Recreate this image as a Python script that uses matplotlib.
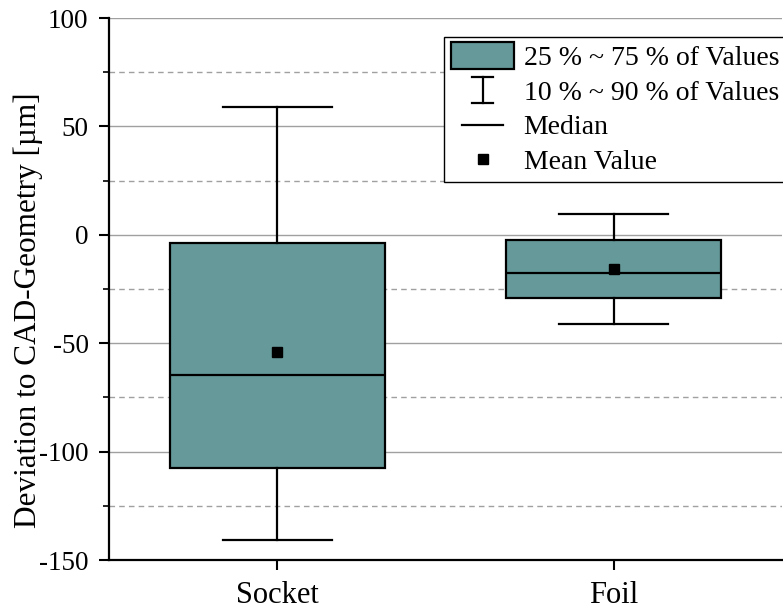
import matplotlib
matplotlib.use("Agg")
import matplotlib.pyplot as plt
from matplotlib.patches import Rectangle
from matplotlib.lines import Line2D
from matplotlib.legend_handler import HandlerBase

# Box statistics per sample (µm)
categories = ["Socket", "Foil"]
p10 = [-141.0, -41.0]
q25 = [-107.5, -29.0]
median = [-64.5, -17.5]
q75 = [-4.0, -2.5]
p90 = [58.8, 9.6]
mean = [-54.0, -16.0]

box_color = "#669999"

plt.rcParams["font.family"] = ["Liberation Serif", "DejaVu Serif"]
plt.rcParams["axes.unicode_minus"] = False

fig = plt.figure(figsize=(7.83, 6.10), dpi=100)
W, H = 783, 610
ax = fig.add_axes([109 / W, 50 / H, (782 - 109) / W, (560 - 18) / H])

stats = []
for i, name in enumerate(categories):
    stats.append(dict(label=name, whislo=p10[i], q1=q25[i], med=median[i],
                      q3=q75[i], whishi=p90[i], mean=mean[i], fliers=[]))

positions = list(range(1, len(categories) + 1))
ax.bxp(stats, positions=positions, widths=0.64, showmeans=True,
       showfliers=False, patch_artist=True,
       boxprops=dict(facecolor=box_color, edgecolor="black", linewidth=1.6),
       medianprops=dict(color="black", linewidth=1.6),
       whiskerprops=dict(color="black", linewidth=1.6),
       capprops=dict(color="black", linewidth=1.6),
       capwidths=0.325,
       meanprops=dict(marker="s", markerfacecolor="black",
                      markeredgecolor="black", markersize=7),
       zorder=3)

ax.set_xlim(0.5, 2.5)
ax.set_ylim(-150, 100)
ax.set_xticks(positions)
ax.set_xticklabels(categories, fontsize=22)
ax.set_yticks([-150, -100, -50, 0, 50, 100])
ax.set_yticks([-125, -75, -25, 25, 75], minor=True)
ax.tick_params(axis="y", labelsize=19.5, direction="out", length=7.2, width=1.5, pad=7.5)
ax.tick_params(axis="y", which="minor", length=4, width=1.2)
ax.tick_params(axis="x", direction="out", length=7, width=1.5, pad=8)

ax.set_ylabel("Deviation to CAD-Geometry [µm]", fontsize=22.5)
ax.yaxis.set_label_coords(-0.098, 0.46)

ax.grid(axis="y", which="major", color="#a0a0a0", linewidth=1.0, zorder=0)
ax.grid(axis="y", which="minor", color="#a0a0a0", linewidth=1.0,
        linestyle=(0, (4, 3)), zorder=0)
ax.set_axisbelow(True)

for side in ("top", "right"):
    ax.spines[side].set_visible(False)
for side in ("left", "bottom"):
    ax.spines[side].set_linewidth(1.6)
    ax.spines[side].set_zorder(5)


class BoxHandler(HandlerBase):
    def create_artists(self, legend, orig_handle, xdescent, ydescent,
                       width, height, fontsize, trans):
        r = Rectangle((-xdescent, -ydescent - 0.1 * height), width, height * 1.2,
                      facecolor=box_color, edgecolor="black", linewidth=1.6,
                      transform=trans)
        return [r]


class RangeHandler(HandlerBase):
    def create_artists(self, legend, orig_handle, xdescent, ydescent,
                       width, height, fontsize, trans):
        cx = -xdescent + width / 2
        y0 = -ydescent - 0.05 * height
        y1 = -ydescent + 1.05 * height
        cw = width * 0.17
        arts = [Line2D([cx, cx], [y0, y1]),
                Line2D([cx - cw, cx + cw], [y0, y0]),
                Line2D([cx - cw, cx + cw], [y1, y1])]
        for a in arts:
            a.set_color("black")
            a.set_linewidth(1.6)
            a.set_transform(trans)
        return arts


class MedianHandler(HandlerBase):
    def create_artists(self, legend, orig_handle, xdescent, ydescent,
                       width, height, fontsize, trans):
        cx = -xdescent + width / 2
        cy = -ydescent + height / 2
        hw = width * 0.33
        ln = Line2D([cx - hw, cx + hw], [cy, cy], color="black",
                    linewidth=1.6, transform=trans)
        return [ln]


class MeanHandler(HandlerBase):
    def create_artists(self, legend, orig_handle, xdescent, ydescent,
                       width, height, fontsize, trans):
        cx = -xdescent + width / 2
        cy = -ydescent + height / 2
        m = Line2D([cx], [cy], marker="s", markersize=7, color="black",
                   linestyle="none", transform=trans)
        return [m]


h_box, h_rng, h_med, h_mean = object(), object(), object(), object()
leg = ax.legend([h_box, h_rng, h_med, h_mean],
                ["25 % ~ 75 % of Values", "10 % ~ 90 % of Values",
                 "Median", "Mean Value"],
                handler_map={h_box: BoxHandler(), h_rng: RangeHandler(),
                             h_med: MedianHandler(), h_mean: MeanHandler()},
                loc="upper right", bbox_to_anchor=(1.0 + 4 / 673, 1 - 19 / 542),
                borderaxespad=0, fontsize=20, handlelength=2.25,
                handleheight=0.9, handletextpad=0.35, labelspacing=0.27,
                borderpad=0.25, fancybox=False, framealpha=1,
                edgecolor="black")
leg.get_frame().set_linewidth(1.0)
leg.set_zorder(6)

fig.savefig("out.png", dpi=100)
